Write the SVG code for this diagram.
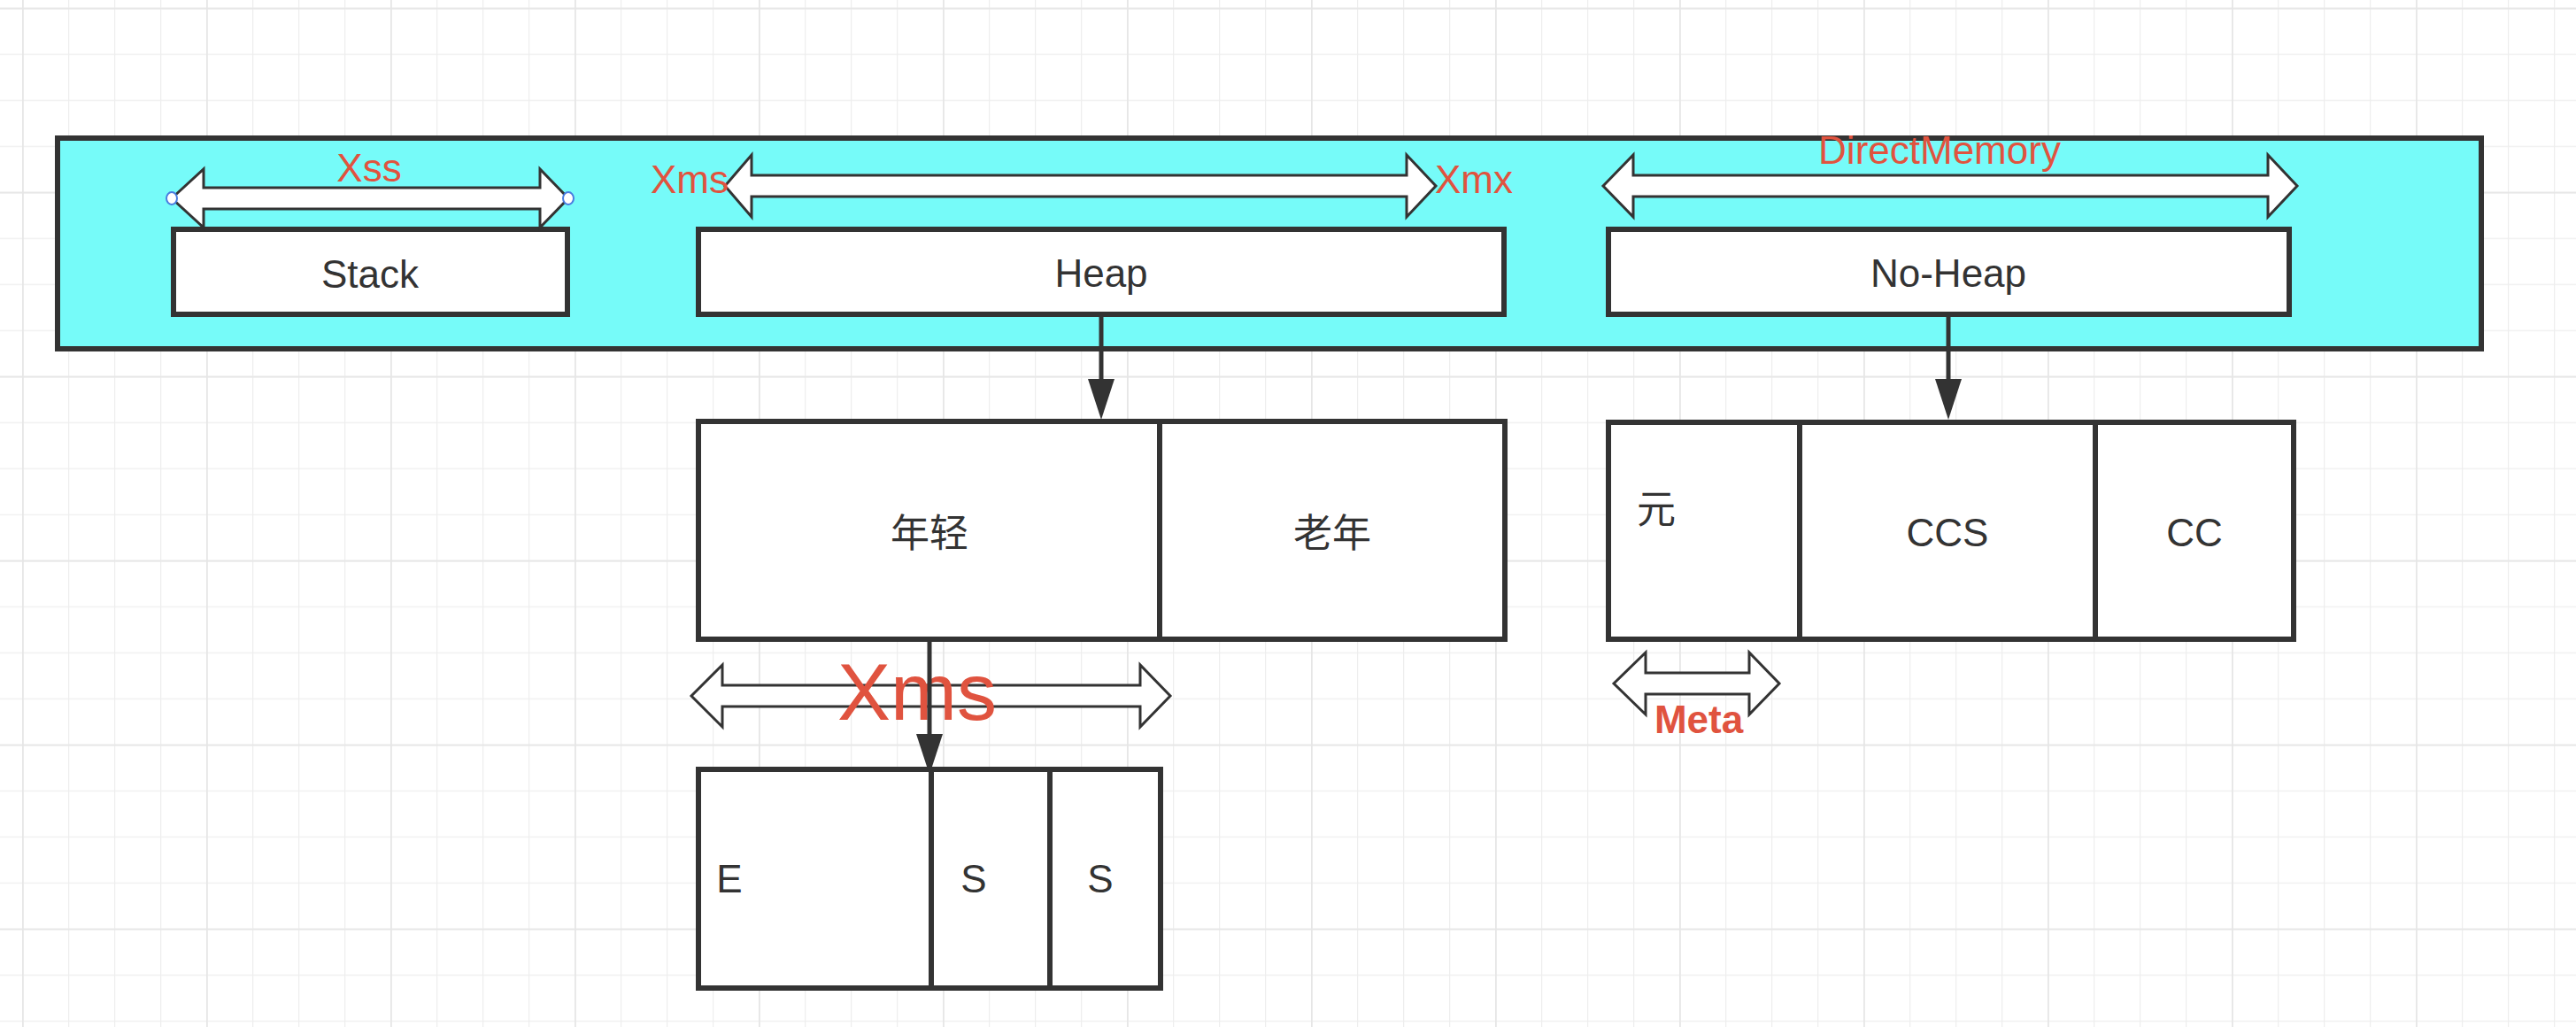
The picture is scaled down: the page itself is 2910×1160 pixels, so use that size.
<svg xmlns="http://www.w3.org/2000/svg" width="2910" height="1160" viewBox="0 0 2910 1160">
<style>
.box{fill:#ffffff;stroke:#333333;stroke-width:6;stroke-linejoin:miter}
.outer{fill:#76FBF9;stroke:#333333;stroke-width:6}
.dbl{fill:#ffffff;stroke:#333333;stroke-width:3;stroke-linejoin:miter}
.lbl{font-family:"Liberation Sans","Noto Sans CJK SC",sans-serif;font-size:44px;fill:#333333;text-anchor:middle}
.red{font-family:"Liberation Sans","Noto Sans CJK SC",sans-serif;font-size:44px;fill:#E0533F}
.conn{stroke:#333333;stroke-width:5;fill:none}
.handle{fill:#ffffff;stroke:#4A7DE0;stroke-width:2}
</style>
<defs>
<pattern id="minor" patternUnits="userSpaceOnUse" x="25" y="8.7" width="52" height="52">
<path d="M0,0 H52 M0,0 V52" stroke="#eeeeee" stroke-width="2.5" fill="none"/>
</pattern>
<pattern id="major" patternUnits="userSpaceOnUse" x="25" y="8.7" width="208" height="208">
<path d="M0,0 H208 M0,0 V208" stroke="#e6e6e6" stroke-width="3.5" fill="none"/>
</pattern>
<marker id="ah" viewBox="0 0 46 30" refX="0" refY="15" markerWidth="46" markerHeight="30" markerUnits="userSpaceOnUse" orient="auto">
<path d="M0,0 L46,15 L0,30 z" fill="#333333"/>
</marker>
</defs>
<rect width="2910" height="1160" fill="#ffffff"/>
<rect width="2910" height="1160" fill="url(#minor)"/>
<rect width="2910" height="1160" fill="url(#major)"/>

<g id="jvm-memory">
<rect class="outer" x="65" y="156" width="2738" height="238"/>
</g>

<g id="stack">
<rect class="box" x="196" y="259" width="445" height="96"/>
<text class="lbl" x="418" y="325">Stack</text>
</g>
<g id="heap">
<rect class="box" x="789" y="259" width="910" height="96"/>
<text class="lbl" x="1244" y="324">Heap</text>
</g>
<g id="no-heap">
<rect class="box" x="1817" y="259" width="769" height="96"/>
<text class="lbl" x="2201" y="324">No-Heap</text>
</g>

<g id="xss-range">
<polygon class="dbl" points="194,224 230,191 230,212 610,212 610,191 642,224 610,257 610,236 230,236 230,257"/>
<ellipse class="handle" cx="194" cy="224" rx="6" ry="7"/>
<ellipse class="handle" cx="642" cy="224" rx="6" ry="7"/>
<text class="red" x="417" y="205" text-anchor="middle">Xss</text>
</g>
<g id="heap-range">
<polygon class="dbl" points="819,210 849,175 849,198 1589,198 1589,175 1622,210 1589,245 1589,222 849,222 849,245"/>
<text class="red" x="735" y="218">Xms</text>
<text class="red" x="1621" y="218">Xmx</text>
</g>
<g id="direct-range">
<polygon class="dbl" points="1811,210 1845,175 1845,198 2562,198 2562,175 2595,210 2562,245 2562,222 1845,222 1845,245"/>
<text class="red" x="2191" y="185" text-anchor="middle">DirectMemory</text>
</g>

<g id="young">
<rect class="box" x="789" y="476" width="521" height="246"/>
<text class="lbl" x="1050" y="618">年轻</text>
</g>
<g id="old">
<rect class="box" x="1310" y="476" width="390" height="246"/>
<text class="lbl" x="1505" y="618">老年</text>
</g>

<g id="meta">
<rect class="box" x="1817" y="477" width="216" height="245"/>
<text class="lbl" x="1871" y="591">元</text>
</g>
<g id="ccs">
<rect class="box" x="2033" y="477" width="334" height="245"/>
<text class="lbl" x="2200" y="617">CCS</text>
</g>
<g id="cc">
<rect class="box" x="2367" y="477" width="224" height="245"/>
<text class="lbl" x="2479" y="617">CC</text>
</g>

<g id="eden">
<rect class="box" x="789" y="869" width="263" height="247"/>
<text class="lbl" x="824" y="1008" text-anchor="start">E</text>
</g>
<g id="s0">
<rect class="box" x="1052" y="869" width="134" height="247"/>
<text class="lbl" x="1100" y="1008">S</text>
</g>
<g id="s1">
<rect class="box" x="1186" y="869" width="125" height="247"/>
<text class="lbl" x="1243" y="1008">S</text>
</g>

<g id="young-range">
<polygon class="dbl" points="781,786 816,751 816,774 1288,774 1288,751 1322,786 1288,821 1288,798 816,798 816,821"/>
<text class="red" x="1036" y="813" text-anchor="middle" style="font-size:90px">Xms</text>
</g>
<g id="meta-range">
<polygon class="dbl" points="1823,772 1859,737 1859,760 1976,760 1976,737 2010,772 1976,807 1976,784 1859,784 1859,807"/>
<text class="red" x="1919" y="828" text-anchor="middle" font-weight="bold">Meta</text>
</g>

<g id="connectors">
<line class="conn" x1="1244" y1="358" x2="1244" y2="428" marker-end="url(#ah)"/>
<line class="conn" x1="2201" y1="358" x2="2201" y2="428" marker-end="url(#ah)"/>
<line class="conn" x1="1050" y1="725" x2="1050" y2="829" marker-end="url(#ah)"/>
</g>
</svg>
